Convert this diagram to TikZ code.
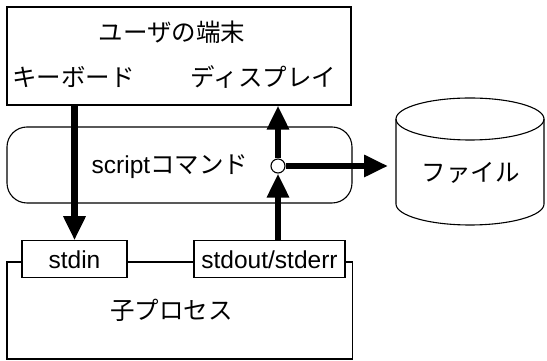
\documentclass[tikz,border=0pt]{standalone}
\usepackage{fontspec}
\setmainfont{Liberation Sans}
\newfontfamily\jafont{Noto Sans CJK JP}
\usetikzlibrary{arrows.meta, positioning}

\begin{document}
\begin{tikzpicture}[
    x=1pt, y=1pt,
    font=\fontsize{24.5}{28}\selectfont,
    box/.style={rectangle, draw, line width=1.1pt, fill=white, inner sep=0pt},
    txt/.style={inner sep=0pt},
    arrow/.style={-{Triangle[length=24pt, width=21pt]}, line width=6.5pt}
]
\useasboundingbox (0,0) rectangle (547,361);

% terminal
\node[box, minimum width=344pt, minimum height=98pt] (term) at (179,305) {};
\node[txt] (title) at (172,329) {\jafont ユーザの端末};
\node[txt] (kbd) at (73.5,284) {\jafont キーボード};
\node[txt] (disp) at (263.5,284) {\jafont ディスプレイ};

% script command
\node[box, rounded corners=20pt, minimum width=345pt, minimum height=76pt] (script) at (179.5,196) {};
\node[txt] (cmd) at (170,194) {script\jafont コマンド};
\node[circle, draw, line width=1.1pt, fill=white, minimum size=14pt, inner sep=0pt] (tap) at (278,195) {};

% child process
\node[box, minimum width=345.7pt, minimum height=97pt] (child) at (179.8,50.5) {};
\node[txt] (proc) at (171.5,51) {\jafont 子プロセス};
\node[box, minimum width=105pt, minimum height=37pt] (stdin) at (74.5,101.7) {stdin};
\node[box, minimum width=151pt, minimum height=37pt] (stdout) at (269.5,101.7) {stdout/stderr};

% file
\draw[line width=1.1pt] (396,242) -- (396,157) arc[start angle=180, end angle=360, x radius=74, y radius=21] -- (544,242);
\draw[line width=1.1pt] (470,242) ellipse[x radius=74, y radius=21];
\node[txt] (file) at (470.5,188) {\jafont ファイル};
\coordinate (filein) at (388,195);

\draw[arrow] (stdin.north |- term.south) -- (stdin.north);
\draw[arrow] (tap.north) -- (tap |- term.south);
\draw[arrow] (tap |- stdout.north) -- (tap.south);
\draw[arrow] (tap.east) -- (filein);
\end{tikzpicture}
\end{document}
